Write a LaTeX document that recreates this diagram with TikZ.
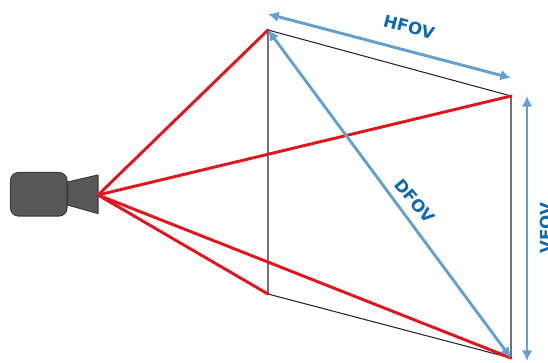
\documentclass[tikz,border=0pt]{standalone}
\usepackage{fontspec}
\setsansfont{DejaVu Sans}
\usetikzlibrary{arrows.meta}
\definecolor{rayRed}{RGB}{226,20,28}
\definecolor{fovArrow}{RGB}{100,160,207}
\definecolor{fovText}{RGB}{15,105,175}
\definecolor{camGrey}{RGB}{88,88,88}
\definecolor{camEdge}{RGB}{60,60,60}
\tikzset{
  ray/.style={draw=rayRed, line width=2.2pt, line cap=round},
  frameline/.style={draw=black!85, line width=0.8pt},
  fovline/.style={draw=fovArrow, line width=2.2pt, {Latex[length=8pt,width=8pt]}-{Latex[length=8pt,width=8pt]}},
  fovlabel/.style={text=fovText, font=\sffamily\bfseries\fontsize{12.5}{13}\selectfont, inner sep=0pt},
}
\begin{document}
\begin{tikzpicture}
% one unit is one pixel of the picture, y runs downwards
\def\pixsz{0.75pt}
\begin{scope}[x=\pixsz, y=-\pixsz, line join=round]
  \useasboundingbox (0,0) rectangle (548,362);
  % Corners of the image plane
  \coordinate (apex) at (98,195);
  \coordinate (topleft) at (268,30);
  \coordinate (topright) at (511,96);
  \coordinate (botright) at (511,358);
  \coordinate (botleft) at (268,294);
  % Ends of the outer arrows
  \coordinate (hfovA) at (268,14);
  \coordinate (hfovB) at (511,78);
  \coordinate (vfovA) at (527,96);
  \coordinate (vfovB) at (527,361);
  % Camera
  \fill[camGrey, draw=camEdge, line width=0.8pt, rounded corners=6pt] (10.5,172.5) rectangle (67,216);
  \fill[camGrey, draw=camEdge, line width=0.8pt] (67.5,182) -- (98,175) -- (98,213.5) -- (67.5,205) -- cycle;
  % Image plane
  \draw[frameline] (topleft) -- (topright) -- (botright) -- (botleft) -- cycle;
  % Rays
  \draw[ray] (apex) -- (topleft);
  \draw[ray] (apex) -- (topright);
  \draw[ray] (apex) -- (botright);
  \draw[ray] (apex) -- (botleft);
  % Field of view arrows
  \draw[fovline] (hfovA) -- (hfovB);
  \draw[fovline] (vfovA) -- (vfovB);
  \draw[fovline] (topleft) -- (botright);
  % Labels
  \node[fovlabel, rotate=-15] (hfov) at (409,27) {HFOV};
  \node[fovlabel, rotate=-50] (dfov) at (415,201) {DFOV};
  \node[fovlabel, rotate=90] (vfov) at (546,228) {VFOV};
\end{scope}
\end{tikzpicture}
\end{document}
